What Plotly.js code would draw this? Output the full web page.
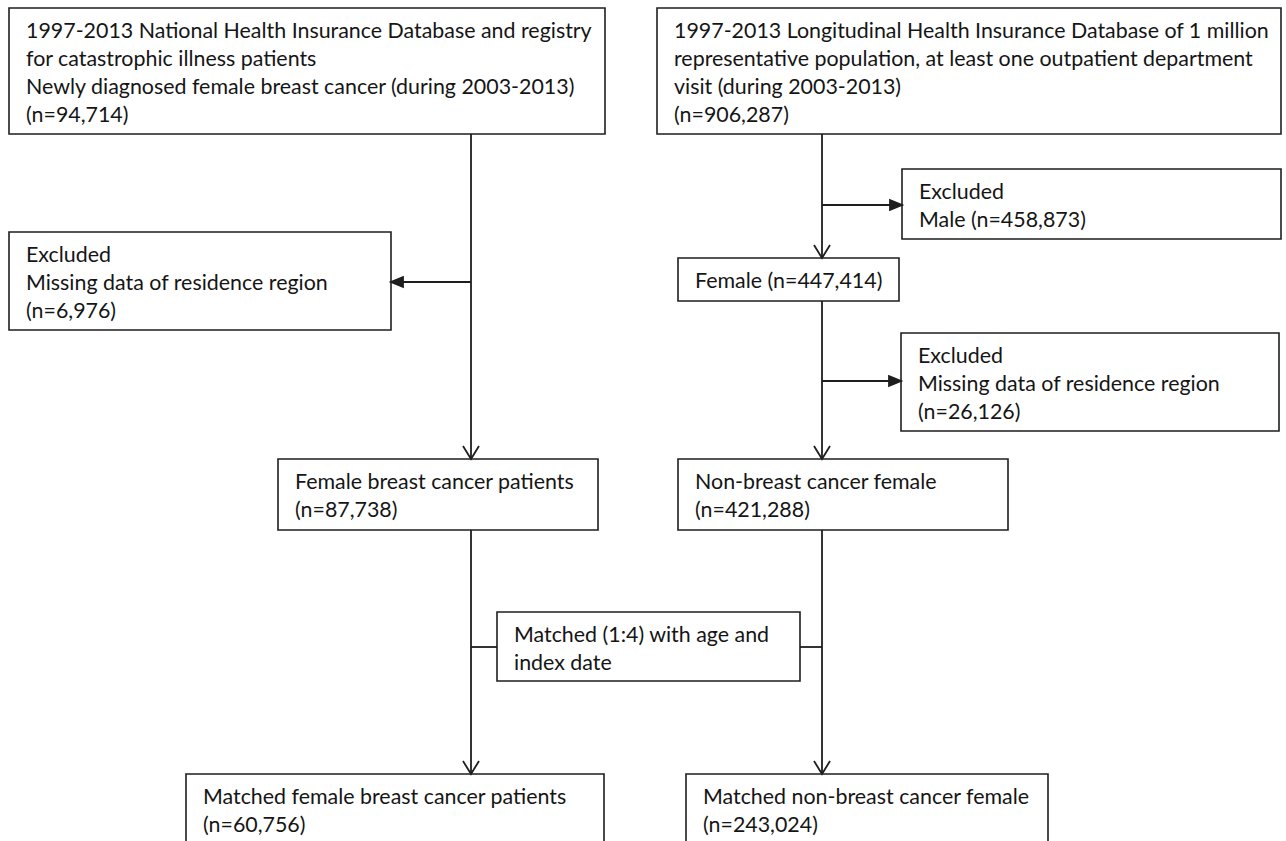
<!DOCTYPE html>
<html><head><meta charset="utf-8">
<script src="https://cdn.plot.ly/plotly-3.0.1.min.js"></script>
<style>html,body{margin:0;padding:0;background:#fff;overflow:hidden}</style>
</head><body><div id="chart" style="width:1286px;height:841px"></div>
<script>
// ---------- data (texts and counts) ----------
const boxIds = ['nhird','lhid','exclRegionA','exclMale','female','exclRegionB','bcPatients','nonBc','matchRule','matchedBc','matchedNonBc'];
const boxLines = [
  ['1997-2013 National Health Insurance Database and registry','for catastrophic illness patients','Newly diagnosed female breast cancer (during 2003-2013)'],
  ['1997-2013 Longitudinal Health Insurance Database of 1 million','representative population, at least one outpatient department','visit (during 2003-2013)'],
  ['Excluded','Missing data of residence region'],
  ['Excluded','Male'],
  ['Female'],
  ['Excluded','Missing data of residence region'],
  ['Female breast cancer patients'],
  ['Non-breast cancer female'],
  ['Matched (1:4) with age and','index date'],
  ['Matched female breast cancer patients'],
  ['Matched non-breast cancer female']
];
const boxCounts = [94714, 906287, 6976, 458873, 447414, 26126, 87738, 421288, null, 60756, 243024];
const countInline = [false, false, false, true, true, false, false, false, false, false, false];

// ---------- layout geometry (pixels in a 1286 x 841 frame) ----------
const boxGeom = {           // [x0, x1, yTop, yBottom]
  nhird:        [9, 605, 8, 134],
  lhid:         [657, 1281, 8, 134],
  exclRegionA:  [9, 391, 232, 330],
  exclMale:     [902, 1281, 169, 239],
  female:       [678, 899, 258, 301],
  exclRegionB:  [901, 1279, 333, 431],
  bcPatients:   [278, 598, 459, 530],
  nonBc:        [678, 1008, 459, 530],
  matchRule:    [497, 800, 612, 681],
  matchedBc:    [186, 604, 774, 850],
  matchedNonBc: [686, 1048, 774, 850]
};
const trunkX = {left: 471, right: 822};
const downLinks = [            // vertical arrows: [trunk, fromBox, toBox]
  ['left', 'nhird', 'bcPatients'],
  ['right', 'lhid', 'female'],
  ['right', 'female', 'nonBc'],
  ['left', 'bcPatients', 'matchedBc'],
  ['right', 'nonBc', 'matchedNonBc']
];
const sideLinks = [            // horizontal exclusion arrows: [trunk, y, toBox]
  ['left', 282, 'exclRegionA'],
  ['right', 205, 'exclMale'],
  ['right', 381, 'exclRegionB']
];
const matchLinkY = 647;

const FONT = {family: 'Lato, "Open Sans", sans-serif', size: 21.4, color: '#151515'};
const LINE_COLOR = '#1e1e1e';
const PAD_X = 15, FIRST_LINE = 22, LINE_H = 28;

const shapes = [];
const annotations = [];

// boxes + text
boxIds.forEach((id, i) => {
  const [x0, x1, y0, y1] = boxGeom[id];
  shapes.push({type: 'rect', xref: 'x', yref: 'y', x0, x1, y0, y1,
    line: {color: LINE_COLOR, width: 1.6}, fillcolor: 'rgba(0,0,0,0)'});
  const lines = boxLines[i].slice();
  if (boxCounts[i] !== null) {
    const c = '(n=' + boxCounts[i].toLocaleString('en-US') + ')';
    if (countInline[i]) lines[lines.length - 1] += ' ' + c;
    else lines.push(c);
  }
  lines.forEach((t, k) => {
    annotations.push({x: x0 + PAD_X, y: y0 + FIRST_LINE + LINE_H * k, xref: 'x', yref: 'y',
      text: t, showarrow: false, xanchor: 'left', yanchor: 'middle', font: FONT});
  });
});

function lineShape(x0, y0, x1, y1) {
  return {type: 'line', xref: 'x', yref: 'y', x0, y0, x1, y1, line: {color: LINE_COLOR, width: 1.8}};
}
function pathShape(d, filled) {
  return {type: 'path', xref: 'x', yref: 'y', path: d,
    line: {color: LINE_COLOR, width: 1.8},
    fillcolor: filled ? LINE_COLOR : 'rgba(0,0,0,0)'};
}

// vertical arrows with open V heads
downLinks.forEach(([tr, from, to]) => {
  const x = trunkX[tr];
  const ys = boxGeom[from][3];
  const ye = boxGeom[to][2];
  shapes.push(lineShape(x, ys, x, ye));
  shapes.push(pathShape(`M ${x - 8},${ye - 13} L ${x},${ye} L ${x + 8},${ye - 13}`, false));
});

// horizontal exclusion arrows with filled heads
sideLinks.forEach(([tr, y, to]) => {
  const x = trunkX[tr];
  const g = boxGeom[to];
  const right = g[0] > x;
  const xt = right ? g[0] : g[1];
  const dir = right ? -1 : 1;
  shapes.push(lineShape(x, y, xt + dir * 10, y));
  shapes.push(pathShape(`M ${xt + dir * 12},${y - 5} L ${xt},${y} L ${xt + dir * 12},${y + 5} Z`, true));
});

// matching connectors
const mr = boxGeom.matchRule;
shapes.push(lineShape(trunkX.left, matchLinkY, mr[0], matchLinkY));
shapes.push(lineShape(mr[1], matchLinkY, trunkX.right, matchLinkY));

const layout = {
  width: 1286, height: 841,
  margin: {l: 0, r: 0, t: 0, b: 0},
  paper_bgcolor: '#ffffff', plot_bgcolor: '#ffffff',
  showlegend: false,
  xaxis: {range: [0, 1286], visible: false, fixedrange: true},
  yaxis: {range: [841, 0], visible: false, fixedrange: true},
  shapes, annotations
};
Plotly.newPlot('chart', [], layout, {displayModeBar: false, staticPlot: true});
</script></body></html>
